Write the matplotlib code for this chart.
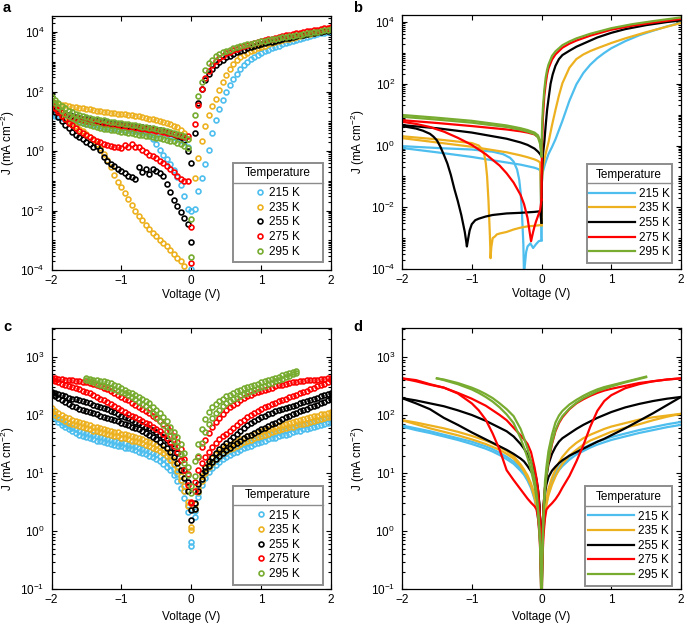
import numpy as np
import matplotlib
matplotlib.use('Agg')
import matplotlib.pyplot as plt
from matplotlib.ticker import LogLocator, NullFormatter
from matplotlib.patches import Rectangle
from matplotlib.lines import Line2D

plt.rcParams['font.family'] = ['Liberation Sans', 'DejaVu Sans']
plt.rcParams['mathtext.fontset'] = 'custom'
plt.rcParams['mathtext.rm'] = 'Liberation Sans'
plt.rcParams['mathtext.it'] = 'Liberation Sans:italic'
plt.rcParams['mathtext.bf'] = 'Liberation Sans:bold'
plt.rcParams['font.size'] = 8.5

temps = ['215 K', '235 K', '255 K', '275 K', '295 K']
colors = ['#4DBEEE', '#EDB120', '#000000', '#FF0000', '#77AC30']

# voltage steps of the measured scans (panels a and c)
v_grid = [-2.0, -1.95, -1.9, -1.85, -1.8, -1.75, -1.7, -1.65, -1.6, -1.55,
          -1.5, -1.45, -1.4, -1.35, -1.3, -1.25, -1.2, -1.15, -1.1, -1.05,
          -1.0, -0.95, -0.9, -0.85, -0.8, -0.75, -0.7, -0.65, -0.6, -0.55,
          -0.5, -0.45, -0.4, -0.35, -0.3, -0.25, -0.2, -0.15, -0.1, -0.05,
          0.0,
          0.05, 0.1, 0.15, 0.2, 0.25, 0.3, 0.35, 0.4, 0.45, 0.5,
          0.55, 0.6, 0.65, 0.7, 0.75, 0.8, 0.85, 0.9, 0.95, 1.0,
          1.05, 1.1, 1.15, 1.2, 1.25, 1.3, 1.35, 1.4, 1.45, 1.5,
          1.55, 1.6, 1.65, 1.7, 1.75, 1.8, 1.85, 1.9, 1.95, 2.0]

# ---- panel a : log10(J), two sweeps on the negative side, one on the positive side
a215_n1 = [1.26, 1.22, 1.18, 1.15, 1.12, 1.09, 1.07, 1.05, 1.03, 1.01, 0.99, 0.97, 0.95, 0.93, 0.91, 0.89, 0.88, 0.86, 0.85, 0.83,
           0.82, 0.8, 0.79, 0.77, 0.75, 0.73, 0.7, 0.66, 0.58, 0.42, 0.22, 0.04, -0.12, -0.28, -0.45, -0.65, -0.88, -1.15, -1.5, -1.95, -3.95]
a215_n2 = [1.22, 1.18, 1.14, 1.1, 1.07, 1.04, 1.01, 0.98, 0.96, 0.94, 0.92, 0.9, 0.88, 0.86, 0.84, 0.82, 0.8, 0.78, 0.77, 0.75,
           0.74, 0.72, 0.71, 0.69, 0.68, 0.66, 0.65, 0.63, 0.62, 0.6, 0.58, 0.56, 0.54, 0.52, 0.49, 0.46, 0.42, 0.38, 0.3, 0.12, -2.0]
a215_p = [-1.95, -1.35, -0.9, -0.45, 0.05, 0.6, 1.05, 1.4, 1.7, 1.98, 2.22, 2.43, 2.6, 2.74, 2.88, 3.0, 3.09, 3.17, 3.24, 3.3,
          3.35, 3.4, 3.45, 3.5, 3.54, 3.58, 3.62, 3.66, 3.69, 3.73, 3.76, 3.8, 3.83, 3.86, 3.89, 3.92, 3.95, 3.98, 4.01, 4.04]

a235_n1 = [1.62, 1.6, 1.57, 1.55, 1.53, 1.51, 1.49, 1.47, 1.45, 1.44, 1.42, 1.4, 1.38, 1.36, 1.34, 1.32, 1.31, 1.29, 1.28, 1.26,
           1.25, 1.23, 1.22, 1.2, 1.18, 1.16, 1.14, 1.12, 1.09, 1.07, 1.04, 1.01, 0.98, 0.94, 0.9, 0.85, 0.79, 0.71, 0.6, 0.4, -4.5]
a235_n2 = [1.55, 1.45, 1.35, 1.25, 1.15, 1.05, 0.95, 0.85, 0.75, 0.66, 0.57, 0.47, 0.36, 0.24, 0.1, -0.1, -0.3, -0.55, -0.8, -1.03,
           -1.22, -1.4, -1.6, -1.8, -2.0, -2.17, -2.33, -2.48, -2.62, -2.75, -2.87, -2.98, -3.09, -3.2, -3.32, -3.45, -3.58, -3.7, -3.85, -4.3, -4.5]
a235_p = [-0.9, -0.25, 0.35, 0.85, 1.2, 1.5, 1.76, 2.06, 2.33, 2.55, 2.75, 2.92, 3.05, 3.15, 3.24, 3.3, 3.36, 3.41, 3.46, 3.5,
          3.54, 3.58, 3.62, 3.65, 3.69, 3.72, 3.75, 3.78, 3.81, 3.84, 3.87, 3.89, 3.92, 3.94, 3.97, 3.99, 4.02, 4.04, 4.06, 4.08]

a255_n1 = [1.48, 1.32, 1.15, 1.0, 0.88, 0.76, 0.64, 0.55, 0.48, 0.39, 0.31, 0.22, 0.14, 0.16, 0.05, -0.2, -0.35, -0.45, -0.52, -0.6,
           -0.66, -0.75, -0.83, -0.88, -0.93, -0.55, -0.72, -0.62, -0.78, -0.62, -0.68, -0.75, -0.85, -1.1, -1.38, -1.65, -1.85, -2.06, -2.26, -2.45, -3.05]
a255_n2 = [1.5, 1.42, 1.36, 1.3, 1.25, 1.21, 1.17, 1.14, 1.11, 1.08, 1.06, 1.04, 1.02, 1.0, 0.98, 0.96, 0.95, 0.93, 0.91, 0.9,
           0.88, 0.87, 0.85, 0.84, 0.82, 0.81, 0.79, 0.77, 0.76, 0.74, 0.72, 0.7, 0.67, 0.64, 0.61, 0.57, 0.52, 0.46, 0.36, 0.0, -0.42]
a255_p = [0.6, 1.6, 2.1, 2.4, 2.6, 2.75, 2.88, 2.98, 3.07, 3.15, 3.21, 3.27, 3.32, 3.37, 3.41, 3.45, 3.49, 3.53, 3.56, 3.59,
          3.62, 3.65, 3.68, 3.71, 3.74, 3.76, 3.79, 3.81, 3.84, 3.86, 3.89, 3.91, 3.93, 3.95, 3.97, 3.99, 4.01, 4.03, 4.05, 4.07]

a275_n1 = [1.65, 1.45, 1.3, 1.18, 1.06, 0.95, 0.86, 0.77, 0.68, 0.6, 0.53, 0.46, 0.4, 0.34, 0.3, 0.25, 0.2, 0.17, 0.14, 0.12,
           0.1, 0.2, 0.12, 0.22, 0.15, 0.12, 0.02, -0.05, -0.12, -0.18, -0.25, -0.32, -0.4, -0.5, -0.6, -0.72, -0.85, -0.95, -1.0, -1.0, -3.77]
a275_n2 = [1.55, 1.45, 1.37, 1.3, 1.24, 1.19, 1.15, 1.11, 1.08, 1.05, 1.02, 1.0, 0.98, 0.96, 0.94, 0.92, 0.9, 0.89, 0.87, 0.86,
           0.84, 0.83, 0.81, 0.8, 0.78, 0.77, 0.75, 0.73, 0.72, 0.7, 0.68, 0.66, 0.64, 0.62, 0.59, 0.56, 0.53, 0.5, 0.46, 0.5, -2.54]
a275_p = [0.9, 1.55, 2.1, 2.45, 2.7, 2.9, 3.03, 3.13, 3.21, 3.28, 3.34, 3.39, 3.44, 3.48, 3.52, 3.56, 3.6, 3.63, 3.66, 3.69,
          3.72, 3.75, 3.78, 3.81, 3.84, 3.86, 3.89, 3.91, 3.94, 3.96, 3.98, 4.0, 4.02, 4.04, 4.06, 4.08, 4.1, 4.12, 4.14, 4.16]

a295_n1 = [1.82, 1.7, 1.6, 1.51, 1.43, 1.36, 1.3, 1.25, 1.21, 1.17, 1.14, 1.11, 1.09, 1.07, 1.05, 1.03, 1.01, 0.99, 0.97, 0.95,
           0.93, 0.91, 0.9, 0.88, 0.86, 0.84, 0.82, 0.8, 0.78, 0.76, 0.74, 0.72, 0.7, 0.67, 0.64, 0.61, 0.58, 0.55, 0.5, 0.42, -2.3]
a295_n2 = [1.8, 1.62, 1.47, 1.35, 1.25, 1.17, 1.1, 1.04, 0.99, 0.94, 0.9, 0.86, 0.83, 0.8, 0.77, 0.75, 0.73, 0.71, 0.69, 0.67,
           0.65, 0.63, 0.61, 0.59, 0.57, 0.55, 0.53, 0.51, 0.49, 0.47, 0.45, 0.43, 0.41, 0.38, 0.35, 0.32, 0.28, 0.24, 0.18, 0.1, -3.55]
a295_p = [1.2, 1.85, 2.32, 2.72, 2.95, 3.07, 3.18, 3.26, 3.32, 3.37, 3.41, 3.45, 3.49, 3.52, 3.55, 3.58, 3.61, 3.64, 3.66, 3.69,
          3.71, 3.74, 3.76, 3.78, 3.8, 3.82, 3.84, 3.86, 3.88, 3.89, 3.91, 3.93, 3.95, 3.97, 3.99, 4.01, 4.03, 4.06, 4.08, 4.11]

# ---- panel b : fitted curves, (voltage, log10 J)
b215_n1_v = [-2.0, -1.5, -1.0, -0.7, -0.55, -0.45, -0.4, -0.35, -0.32, -0.3, -0.28, -0.26, -0.25, -0.24, -0.22, -0.2, -0.16, -0.12, -0.08, -0.04, 0.0]
b215_n1 = [-0.02, -0.08, -0.13, -0.2, -0.28, -0.4, -0.52, -0.78, -1.1, -1.5, -2.2, -3.2, -4.3, -3.9, -3.45, -3.27, -3.17, -3.32, -3.2, -3.1, -3.07]
b215_n2_v = [-2.0, -1.5, -1.0, -0.5, -0.3, -0.2, -0.1, -0.05, -0.02, -0.01, 0.0]
b215_n2 = [-0.08, -0.22, -0.37, -0.55, -0.62, -0.67, -0.72, -0.76, -0.8, -1.6, -3.07]
b215_p_v = [0.0, 0.005, 0.02, 0.05, 0.1, 0.15, 0.2, 0.3, 0.4, 0.5, 0.6, 0.7, 0.8, 0.9, 1.0, 1.2, 1.4, 1.6, 1.8, 2.0]
b215_p = [-3.07, -1.2, -0.85, -0.6, -0.28, -0.05, 0.2, 0.8, 1.45, 1.98, 2.35, 2.62, 2.83, 3.0, 3.15, 3.38, 3.57, 3.72, 3.86, 3.98]

b235_n1_v = [-2.0, -1.5, -1.0, -0.9, -0.85, -0.82, -0.8, -0.78, -0.76, -0.74, -0.73, -0.72, -0.7, -0.67, -0.64, -0.6, -0.5, -0.4, -0.3, -0.2, -0.1, -0.02, 0.0]
b235_n1 = [0.3, 0.2, 0.08, 0.0, -0.12, -0.3, -0.55, -1.0, -1.8, -2.9, -3.65, -3.3, -3.0, -2.95, -2.88, -2.85, -2.8, -2.72, -2.66, -2.62, -2.6, -2.58, -2.58]
b235_n2_v = [-2.0, -1.5, -1.0, -0.5, -0.3, -0.2, -0.1, -0.05, -0.02, -0.01, 0.0]
b235_n2 = [0.24, 0.1, -0.04, -0.22, -0.32, -0.38, -0.45, -0.5, -0.55, -1.5, -2.58]
b235_p_v = [0.0, 0.005, 0.02, 0.05, 0.1, 0.15, 0.2, 0.25, 0.3, 0.4, 0.5, 0.6, 0.7, 0.8, 1.0, 1.2, 1.5, 1.8, 2.0]
b235_p = [-2.58, -1.2, -0.7, -0.35, 0.1, 0.65, 1.15, 1.62, 2.02, 2.52, 2.8, 2.95, 3.06, 3.15, 3.32, 3.47, 3.67, 3.85, 3.97]

b255_n1_v = [-2.0, -1.5, -1.0, -0.5, -0.3, -0.2, -0.1, -0.05, -0.02, 0.0]
b255_n1 = [0.66, 0.56, 0.42, 0.22, 0.1, 0.02, -0.1, -0.2, -0.28, -0.35]
b255_n2_v = [-2.0, -1.8, -1.7, -1.6, -1.55, -1.5, -1.45, -1.4, -1.35, -1.3, -1.25, -1.2, -1.15, -1.1, -1.08, -1.07, -1.05, -1.03,
             -1.0, -0.95, -0.9, -0.8, -0.7, -0.5, -0.3, -0.1, -0.02, 0.0]
b255_n2 = [0.63, 0.55, 0.48, 0.38, 0.29, 0.17, -0.04, -0.3, -0.58, -0.95, -1.4, -1.8, -2.25, -2.8, -3.1, -3.27, -3.0, -2.75,
           -2.55, -2.42, -2.37, -2.3, -2.25, -2.2, -2.18, -2.15, -2.13, -2.5]
b255_p_v = [0.0, 0.005, 0.02, 0.04, 0.06, 0.08, 0.1, 0.13, 0.16, 0.2, 0.25, 0.3, 0.4, 0.5, 0.6, 0.8, 1.0, 1.2, 1.5, 1.8, 2.0]
b255_p = [-2.5, -1.0, -0.3, 0.1, 0.65, 1.15, 1.5, 2.0, 2.3, 2.58, 2.8, 2.93, 3.07, 3.2, 3.3, 3.5, 3.65, 3.77, 3.9, 4.0, 4.05]

b275_n1_v = [-2.0, -1.5, -1.0, -0.5, -0.3, -0.2, -0.1, -0.05, -0.02, 0.0]
b275_n1 = [0.82, 0.73, 0.63, 0.52, 0.46, 0.42, 0.36, 0.28, 0.15, -0.2]
b275_n2_v = [-2.0, -1.8, -1.6, -1.4, -1.2, -1.0, -0.8, -0.6, -0.5, -0.4, -0.3, -0.25, -0.2, -0.18, -0.16, -0.15, -0.14, -0.12,
             -0.1, -0.08, -0.05, -0.02, 0.0]
b275_n2 = [0.77, 0.7, 0.6, 0.45, 0.25, 0.02, -0.28, -0.65, -0.9, -1.2, -1.6, -1.9, -2.35, -2.65, -2.95, -3.1, -3.0, -2.8,
           -2.62, -2.47, -2.28, -2.1, -1.76]
b275_p_v = [0.0, 0.005, 0.01, 0.02, 0.04, 0.06, 0.08, 0.1, 0.15, 0.2, 0.3, 0.4, 0.5, 0.7, 1.0, 1.3, 1.6, 2.0]
b275_p = [-1.76, -0.5, 0.2, 0.9, 1.6, 2.0, 2.3, 2.5, 2.78, 2.95, 3.17, 3.3, 3.4, 3.56, 3.75, 3.88, 3.98, 4.1]

b295_n_v = [-2.0, -1.5, -1.0, -0.5, -0.3, -0.2, -0.1, -0.05, -0.02, 0.0]
b295_n1 = [0.99, 0.9, 0.8, 0.65, 0.56, 0.5, 0.42, 0.33, 0.15, -0.3]
b295_n2 = [0.93, 0.84, 0.74, 0.6, 0.51, 0.45, 0.37, 0.26, 0.05, -0.35]
b295_p_v = [0.0, 0.005, 0.01, 0.02, 0.04, 0.06, 0.08, 0.1, 0.15, 0.2, 0.3, 0.4, 0.5, 0.7, 1.0, 1.3, 1.6, 2.0]
b295_p = [-0.35, 0.3, 0.7, 1.2, 1.8, 2.2, 2.45, 2.62, 2.9, 3.05, 3.25, 3.37, 3.47, 3.62, 3.8, 3.93, 4.03, 4.15]

# ---- panel c : log10(J), two sweeps on v_grid (295 K only from -1.5 to 1.5 V)
c215_a = [2.03, 1.95, 1.88, 1.83, 1.79, 1.75, 1.72, 1.69, 1.66, 1.64, 1.62, 1.6, 1.58, 1.56, 1.55, 1.53, 1.52, 1.5, 1.49, 1.47,
          1.46, 1.44, 1.43, 1.41, 1.39, 1.37, 1.35, 1.33, 1.3, 1.27, 1.24, 1.2, 1.16, 1.11, 1.05, 0.97, 0.87, 0.74, 0.57, 0.33, -0.25,
          0.25, 0.58, 0.8, 0.92, 1.01, 1.08, 1.14, 1.19, 1.24, 1.28, 1.31, 1.34, 1.37, 1.4, 1.43, 1.45, 1.47, 1.5, 1.52, 1.54,
          1.56, 1.58, 1.6, 1.61, 1.63, 1.65, 1.66, 1.68, 1.7, 1.72, 1.73, 1.75, 1.76, 1.78, 1.8, 1.81, 1.83, 1.85, 1.86, 1.88]
c215_b = [2.06, 1.99, 1.93, 1.88, 1.84, 1.81, 1.78, 1.75, 1.73, 1.71, 1.69, 1.67, 1.65, 1.63, 1.62, 1.6, 1.58, 1.57, 1.55, 1.54,
          1.52, 1.51, 1.49, 1.48, 1.46, 1.44, 1.42, 1.4, 1.38, 1.35, 1.32, 1.29, 1.25, 1.2, 1.14, 1.07, 0.98, 0.86, 0.69, 0.45, -0.19,
          0.35, 0.66, 0.87, 0.99, 1.08, 1.15, 1.21, 1.26, 1.31, 1.35, 1.38, 1.41, 1.44, 1.47, 1.5, 1.52, 1.54, 1.57, 1.59, 1.61,
          1.63, 1.65, 1.67, 1.69, 1.71, 1.72, 1.74, 1.76, 1.78, 1.79, 1.81, 1.83, 1.84, 1.86, 1.88, 1.89, 1.91, 1.93, 1.94, 1.96]
c235_a = [2.05, 2.0, 1.96, 1.93, 1.9, 1.87, 1.85, 1.83, 1.81, 1.79, 1.77, 1.75, 1.73, 1.72, 1.7, 1.69, 1.67, 1.66, 1.64, 1.63,
          1.61, 1.6, 1.58, 1.56, 1.55, 1.53, 1.51, 1.49, 1.47, 1.44, 1.41, 1.38, 1.34, 1.29, 1.23, 1.15, 1.03, 0.88, 0.7, 0.43, 0.02,
          0.38, 0.67, 0.87, 1.0, 1.1, 1.18, 1.24, 1.29, 1.34, 1.38, 1.41, 1.44, 1.47, 1.5, 1.53, 1.55, 1.57, 1.6, 1.62, 1.64,
          1.66, 1.68, 1.7, 1.72, 1.74, 1.75, 1.77, 1.79, 1.8, 1.82, 1.84, 1.85, 1.87, 1.88, 1.9, 1.91, 1.93, 1.94, 1.96, 1.97]
c235_b = [2.12, 2.07, 2.03, 2.0, 1.97, 1.94, 1.92, 1.9, 1.88, 1.86, 1.84, 1.82, 1.8, 1.79, 1.77, 1.76, 1.74, 1.73, 1.71, 1.7,
          1.68, 1.67, 1.65, 1.63, 1.62, 1.6, 1.58, 1.56, 1.54, 1.51, 1.48, 1.45, 1.41, 1.36, 1.3, 1.22, 1.1, 0.95, 0.77, 0.5, 0.07,
          0.46, 0.75, 0.95, 1.08, 1.18, 1.26, 1.32, 1.37, 1.42, 1.46, 1.49, 1.52, 1.55, 1.58, 1.61, 1.63, 1.65, 1.68, 1.7, 1.72,
          1.74, 1.76, 1.78, 1.8, 1.82, 1.83, 1.85, 1.87, 1.88, 1.9, 1.92, 1.93, 1.95, 1.96, 1.98, 1.99, 2.01, 2.02, 2.04, 2.05]
c255_a = [2.4, 2.38, 2.36, 2.34, 2.32, 2.3, 2.28, 2.27, 2.25, 2.24, 2.22, 2.2, 2.18, 2.16, 2.14, 2.12, 2.1, 2.07, 2.05, 2.02,
          1.99, 1.96, 1.94, 1.91, 1.88, 1.86, 1.83, 1.8, 1.77, 1.74, 1.7, 1.66, 1.62, 1.57, 1.51, 1.44, 1.35, 1.23, 1.06, 0.84, 0.36,
          0.48, 0.82, 1.0, 1.11, 1.2, 1.28, 1.35, 1.42, 1.47, 1.52, 1.57, 1.62, 1.67, 1.72, 1.77, 1.82, 1.86, 1.9, 1.93, 1.96,
          1.99, 2.01, 2.04, 2.06, 2.08, 2.1, 2.12, 2.14, 2.16, 2.18, 2.2, 2.22, 2.24, 2.26, 2.28, 2.3, 2.32, 2.34, 2.36, 2.38]
c255_b = [2.37, 2.33, 2.29, 2.25, 2.22, 2.19, 2.16, 2.13, 2.11, 2.09, 2.07, 2.05, 2.03, 2.01, 1.99, 1.97, 1.95, 1.93, 1.91, 1.89,
          1.86, 1.84, 1.82, 1.8, 1.77, 1.75, 1.72, 1.69, 1.66, 1.62, 1.58, 1.54, 1.49, 1.43, 1.36, 1.28, 1.18, 1.06, 0.92, 0.7, 0.19,
          0.38, 0.7, 0.9, 1.03, 1.12, 1.19, 1.25, 1.3, 1.35, 1.4, 1.44, 1.48, 1.52, 1.56, 1.6, 1.63, 1.66, 1.69, 1.72, 1.75,
          1.78, 1.81, 1.84, 1.87, 1.9, 1.93, 1.96, 1.99, 2.01, 2.04, 2.06, 2.09, 2.11, 2.14, 2.16, 2.18, 2.21, 2.23, 2.26, 2.28]
c275_a = [2.63, 2.63, 2.62, 2.62, 2.61, 2.6, 2.6, 2.59, 2.58, 2.57, 2.56, 2.55, 2.53, 2.51, 2.49, 2.47, 2.44, 2.41, 2.38, 2.35,
          2.31, 2.28, 2.25, 2.21, 2.18, 2.14, 2.11, 2.07, 2.03, 1.99, 1.95, 1.9, 1.85, 1.79, 1.72, 1.64, 1.54, 1.41, 1.24, 0.98, 0.51,
          0.85, 1.28, 1.45, 1.57, 1.69, 1.8, 1.88, 1.95, 2.02, 2.08, 2.13, 2.17, 2.21, 2.25, 2.29, 2.32, 2.35, 2.37, 2.39, 2.41,
          2.43, 2.45, 2.47, 2.49, 2.51, 2.52, 2.54, 2.55, 2.56, 2.57, 2.58, 2.59, 2.6, 2.6, 2.61, 2.61, 2.62, 2.62, 2.63, 2.63]
c275_b = [2.6, 2.58, 2.56, 2.54, 2.52, 2.5, 2.48, 2.46, 2.44, 2.42, 2.4, 2.37, 2.34, 2.31, 2.28, 2.25, 2.22, 2.19, 2.15, 2.12,
          2.08, 2.05, 2.02, 1.99, 1.96, 1.93, 1.9, 1.87, 1.84, 1.8, 1.76, 1.72, 1.67, 1.61, 1.54, 1.46, 1.36, 1.23, 1.05, 0.8, 0.48,
          0.7, 1.05, 1.18, 1.28, 1.37, 1.45, 1.52, 1.58, 1.63, 1.68, 1.73, 1.78, 1.83, 1.88, 1.92, 1.97, 2.0, 2.04, 2.07, 2.1,
          2.13, 2.16, 2.19, 2.21, 2.24, 2.26, 2.28, 2.31, 2.33, 2.35, 2.37, 2.39, 2.42, 2.44, 2.46, 2.49, 2.51, 2.54, 2.57, 2.6]
c295_a = [2.63, 2.62, 2.61, 2.6, 2.59, 2.58, 2.57, 2.55, 2.52, 2.49, 2.46, 2.43, 2.4, 2.37, 2.34, 2.31, 2.27, 2.24, 2.2, 2.14,
          2.08, 2.03, 1.97, 1.89, 1.8, 1.71, 1.62, 1.5, 1.34, 1.11, 0.77,
          1.2, 1.5, 1.75, 1.93, 2.05, 2.13, 2.19, 2.24, 2.28, 2.32, 2.35, 2.38, 2.41, 2.43, 2.46, 2.48, 2.5, 2.52, 2.54, 2.56,
          2.58, 2.6, 2.62, 2.64, 2.66, 2.68, 2.7, 2.72, 2.74, 2.76]
c295_b = [2.6, 2.58, 2.56, 2.54, 2.52, 2.5, 2.48, 2.46, 2.44, 2.42, 2.4, 2.37, 2.34, 2.31, 2.27, 2.23, 2.19, 2.15, 2.1, 2.04,
          1.97, 1.9, 1.82, 1.73, 1.63, 1.55, 1.46, 1.33, 1.17, 0.96, 0.65,
          0.95, 1.3, 1.52, 1.7, 1.84, 1.95, 2.03, 2.09, 2.15, 2.2, 2.24, 2.27, 2.3, 2.33, 2.36, 2.38, 2.41, 2.43, 2.46, 2.48,
          2.5, 2.53, 2.55, 2.58, 2.6, 2.62, 2.65, 2.67, 2.7, 2.72]

# ---- panel d : fitted curves, log10(J) on vd (295 K on vd_g)
vd = [-2.0, -1.8, -1.6, -1.4, -1.2, -1.0, -0.9, -0.8, -0.7, -0.6, -0.5, -0.4, -0.3, -0.25, -0.2, -0.15, -0.1, -0.07, -0.05, -0.03,
      -0.02, -0.01, 0.0, 0.01, 0.02, 0.03, 0.05, 0.07, 0.1, 0.15, 0.2, 0.25, 0.3, 0.4, 0.5, 0.6, 0.7, 0.8, 0.9, 1.0,
      1.2, 1.4, 1.6, 1.8, 2.0]
d215_a = [1.8, 1.74, 1.69, 1.63, 1.57, 1.5, 1.46, 1.42, 1.37, 1.31, 1.24, 1.16, 1.04, 0.97, 0.87, 0.74, 0.55, 0.38, 0.22, 0.0,
          -0.2, -0.55, -1.5, -0.55, -0.15, 0.05, 0.3, 0.48, 0.65, 0.84, 0.96, 1.05, 1.12, 1.23, 1.32, 1.38, 1.44, 1.49, 1.53, 1.57,
          1.63, 1.69, 1.74, 1.79, 1.83]
d215_b = [1.82, 1.77, 1.72, 1.66, 1.6, 1.54, 1.5, 1.46, 1.41, 1.35, 1.28, 1.2, 1.08, 1.01, 0.92, 0.79, 0.6, 0.43, 0.27, 0.05,
          -0.15, -0.5, -1.5, -0.5, -0.1, 0.1, 0.35, 0.53, 0.7, 0.89, 1.01, 1.1, 1.17, 1.28, 1.37, 1.43, 1.49, 1.54, 1.58, 1.62,
          1.68, 1.74, 1.79, 1.84, 1.88]
d235_a = [1.91, 1.87, 1.82, 1.77, 1.71, 1.64, 1.6, 1.56, 1.51, 1.45, 1.38, 1.29, 1.15, 1.06, 0.96, 0.82, 0.62, 0.45, 0.3, 0.08,
          -0.12, -0.5, -1.5, -0.5, -0.1, 0.12, 0.38, 0.55, 0.73, 0.92, 1.06, 1.18, 1.28, 1.42, 1.52, 1.6, 1.66, 1.71, 1.76, 1.8,
          1.86, 1.92, 1.96, 1.99, 2.02]
d235_b = [1.91, 1.84, 1.77, 1.71, 1.65, 1.58, 1.54, 1.5, 1.45, 1.4, 1.33, 1.25, 1.12, 1.03, 0.92, 0.78, 0.58, 0.42, 0.27, 0.05,
          -0.15, -0.5, -1.5, -0.5, -0.15, 0.05, 0.3, 0.45, 0.62, 0.8, 0.94, 1.06, 1.16, 1.3, 1.4, 1.49, 1.56, 1.61, 1.66, 1.71,
          1.78, 1.84, 1.91, 1.97, 2.02]
d255_a = [2.29, 2.25, 2.2, 2.15, 2.08, 2.0, 1.95, 1.9, 1.84, 1.78, 1.72, 1.63, 1.5, 1.42, 1.32, 1.2, 1.03, 0.88, 0.72, 0.45,
          0.2, -0.3, -1.5, -0.3, 0.2, 0.45, 0.75, 0.93, 1.15, 1.33, 1.45, 1.54, 1.6, 1.68, 1.76, 1.83, 1.89, 1.95, 2.0, 2.05,
          2.13, 2.19, 2.24, 2.28, 2.31]
d255_b = [2.29, 2.2, 2.1, 1.95, 1.83, 1.7, 1.64, 1.58, 1.52, 1.46, 1.4, 1.33, 1.25, 1.2, 1.12, 1.03, 0.93, 0.83, 0.7, 0.45,
          0.2, -0.3, -1.5, -0.3, 0.15, 0.4, 0.65, 0.8, 0.93, 1.04, 1.11, 1.17, 1.22, 1.3, 1.36, 1.42, 1.48, 1.54, 1.59, 1.65,
          1.77, 1.9, 2.03, 2.17, 2.31]
d275_a = [2.63, 2.6, 2.53, 2.47, 2.38, 2.28, 2.22, 2.16, 2.08, 2.0, 1.91, 1.78, 1.65, 1.58, 1.5, 1.36, 1.1, 0.9, 0.7, 0.4,
          0.2, -0.2, -1.5, -0.2, 0.2, 0.45, 0.75, 0.98, 1.2, 1.5, 1.72, 1.86, 1.96, 2.1, 2.2, 2.27, 2.33, 2.38, 2.42, 2.45,
          2.5, 2.55, 2.58, 2.61, 2.63]
d275_b = [2.63, 2.58, 2.52, 2.47, 2.37, 2.2, 2.08, 1.92, 1.68, 1.4, 1.05, 0.88, 0.72, 0.64, 0.56, 0.49, 0.43, 0.37, 0.22, -0.05,
          -0.3, -0.7, -1.5, -0.7, -0.3, -0.05, 0.22, 0.37, 0.42, 0.48, 0.55, 0.64, 0.75, 0.95, 1.2, 1.48, 1.8, 2.07, 2.24, 2.34,
          2.46, 2.53, 2.58, 2.61, 2.63]
vd_g = [-1.5, -1.4, -1.2, -1.0, -0.9, -0.8, -0.7, -0.6, -0.5, -0.4, -0.3, -0.25, -0.2, -0.15, -0.1, -0.07, -0.05, -0.03, -0.02, -0.01,
        0.0, 0.01, 0.02, 0.03, 0.05, 0.07, 0.1, 0.15, 0.2, 0.25, 0.3, 0.4, 0.5, 0.6, 0.7, 0.8, 0.9, 1.0, 1.2, 1.4, 1.5]
d295_a = [2.63, 2.61, 2.55, 2.47, 2.42, 2.36, 2.29, 2.2, 2.1, 1.98, 1.76, 1.6, 1.42, 1.2, 0.9, 0.65, 0.4, 0.05, -0.2, -0.6,
          -1.5, -0.5, 0.0, 0.35, 0.85, 1.1, 1.38, 1.66, 1.87, 1.99, 2.07, 2.18, 2.26, 2.33, 2.39, 2.44, 2.48, 2.51, 2.57, 2.63, 2.66]
d295_b = [2.63, 2.6, 2.53, 2.44, 2.38, 2.31, 2.23, 2.13, 2.01, 1.86, 1.6, 1.44, 1.26, 1.05, 0.78, 0.55, 0.33, 0.0, -0.25, -0.62,
          -1.5, -0.55, -0.1, 0.25, 0.7, 0.95, 1.22, 1.52, 1.74, 1.88, 1.98, 2.11, 2.21, 2.29, 2.35, 2.41, 2.45, 2.49, 2.56, 2.62, 2.65]

W, H = 685.0, 626.0
fig = plt.figure(figsize=(W / 100, H / 100), dpi=100)


def make_axes(left, top, right, bottom):
    return fig.add_axes([left / W, 1 - bottom / H, (right - left) / W, (bottom - top) / H])


def style(ax, ylim, yticks, ylab_x, xlab_y):
    ax.set_yscale('log')
    ax.set_xlim(-2, 2)
    ax.set_ylim(ylim)
    ax.set_xticks([-2, -1, 0, 1, 2])
    ax.set_yticks(yticks)
    ax.yaxis.set_minor_locator(LogLocator(base=10, subs=np.arange(1, 10), numticks=100))
    ax.yaxis.set_minor_formatter(NullFormatter())
    ax.tick_params(which='both', direction='in', top=True, right=True, width=0.8, labelsize=8.5)
    ax.tick_params(which='major', length=3.5)
    ax.tick_params(which='minor', length=2)
    ax.tick_params(axis='x', pad=3.5)
    ax.tick_params(axis='y', pad=5)
    for s in ax.spines.values():
        s.set_linewidth(0.9)
    ax.set_xlabel('Voltage (V)', fontsize=8.5)
    ax.set_ylabel('J (mA cm$^{-2}$)', fontsize=8.5)
    ax.yaxis.set_label_coords(ylab_x, 0.5)
    ax.xaxis.set_label_coords(0.5, xlab_y)


def add_legend(ax, handles, box, title_y, sep_y, hlen, hpad):
    x0, y0, w, h = box
    ax.add_patch(Rectangle((x0, y0), w, h, transform=ax.transAxes, facecolor='white',
                           edgecolor='#8c8c8c', lw=1.4, zorder=5))
    ax.add_line(Line2D([x0, x0 + w], [sep_y, sep_y], transform=ax.transAxes,
                       color='#8c8c8c', lw=1.0, zorder=6))
    ax.text(x0 + w / 2, title_y, 'Temperature', transform=ax.transAxes, ha='center',
            va='center', fontsize=8.5, zorder=7)
    leg = ax.legend(handles=handles, labels=temps, loc='upper center',
                    bbox_to_anchor=(x0 + w / 2, sep_y - 0.004), frameon=False, borderaxespad=0,
                    borderpad=0.3, labelspacing=0.22, handlelength=hlen, handletextpad=hpad,
                    fontsize=8.5)
    leg.set_zorder(7)


def marker_style(c):
    return dict(ls='none', marker='o', ms=3.5, mfc='none', mec=c, mew=1.2)


v_neg = v_grid[:41]
v_pos = v_grid[41:]

# panel a
ax_a = make_axes(51.5, 16, 331, 270)
a_neg1 = [a215_n1, a235_n1, a255_n1, a275_n1, a295_n1]
a_neg2 = [a215_n2, a235_n2, a255_n2, a275_n2, a295_n2]
a_pos = [a215_p, a235_p, a255_p, a275_p, a295_p]
for n1, n2, p, c in zip(a_neg1, a_neg2, a_pos, colors):
    ax_a.plot(v_neg, 10 ** np.array(n1), **marker_style(c))
    ax_a.plot(v_neg, 10 ** np.array(n2), **marker_style(c))
    ax_a.plot(v_pos, 10 ** np.array(p), **marker_style(c))
style(ax_a, (1e-4, 3.45e4), [1e-4, 1e-2, 1e0, 1e2, 1e4], -0.124, -0.075)
add_legend(ax_a, [Line2D([], [], **marker_style(c)) for c in colors],
           (0.649, 0.0315, 0.322, 0.39), 0.381, 0.3437, 0.8, 0.35)

# panel b
ax_b = make_axes(402, 15, 681, 269)
b_sets = [(b215_n1_v, b215_n1, b215_n2_v, b215_n2, b215_p_v, b215_p),
          (b235_n1_v, b235_n1, b235_n2_v, b235_n2, b235_p_v, b235_p),
          (b255_n1_v, b255_n1, b255_n2_v, b255_n2, b255_p_v, b255_p),
          (b275_n1_v, b275_n1, b275_n2_v, b275_n2, b275_p_v, b275_p),
          (b295_n_v, b295_n1, b295_n_v, b295_n2, b295_p_v, b295_p)]
for (v1, j1, v2, j2, vp, jp), c in zip(b_sets, colors):
    for v, j in ((v1, j1), (v2, j2), (vp, jp)):
        ax_b.plot(v, 10 ** np.array(j), color=c, lw=1.6)
style(ax_b, (1e-4, 1.69e4), [1e-4, 1e-2, 1e0, 1e2, 1e4], -0.125, -0.075)
add_legend(ax_b, [Line2D([], [], color=c, lw=1.6) for c in colors],
           (0.662, 0.0224, 0.3047, 0.39), 0.370, 0.3374, 3.9, 0.3)

# panel c
ax_c = make_axes(51.5, 328.3, 331, 589.3)
c_sets = [(v_grid, c215_a, c215_b), (v_grid, c235_a, c235_b), (v_grid, c255_a, c255_b),
          (v_grid, c275_a, c275_b), (v_grid[10:71], c295_a, c295_b)]
for (v, ja, jb), c in zip(c_sets, colors):
    ax_c.plot(v, 10 ** np.array(ja), **marker_style(c))
    ax_c.plot(v, 10 ** np.array(jb), **marker_style(c))
style(ax_c, (1e-1, 3.1e3), [1e-1, 1e0, 1e1, 1e2, 1e3], -0.124, -0.083)
add_legend(ax_c, [Line2D([], [], **marker_style(c)) for c in colors],
           (0.6505, 0.0165, 0.32, 0.379), 0.361, 0.323, 0.8, 0.35)

# panel d
ax_d = make_axes(402, 328.3, 681, 589.3)
d_sets = [(vd, d215_a, d215_b), (vd, d235_a, d235_b), (vd, d255_a, d255_b),
          (vd, d275_a, d275_b), (vd_g, d295_a, d295_b)]
for (v, ja, jb), c in zip(d_sets, colors):
    ax_d.plot(v, 10 ** np.array(ja), color=c, lw=1.6)
    ax_d.plot(v, 10 ** np.array(jb), color=c, lw=1.6)
style(ax_d, (1e-1, 3.1e3), [1e-1, 1e0, 1e1, 1e2, 1e3], -0.125, -0.083)
add_legend(ax_d, [Line2D([], [], color=c, lw=1.6) for c in colors],
           (0.656, 0.0126, 0.313, 0.383), 0.355, 0.319, 3.9, 0.3)

for letter, x, y in (('a', 3, 1), ('b', 353, 1), ('c', 3, 320), ('d', 353, 320)):
    fig.text(x / W, 1 - y / H, letter, fontsize=10.5, fontweight='bold', va='top', ha='left')

fig.savefig('out.png', dpi=100)
